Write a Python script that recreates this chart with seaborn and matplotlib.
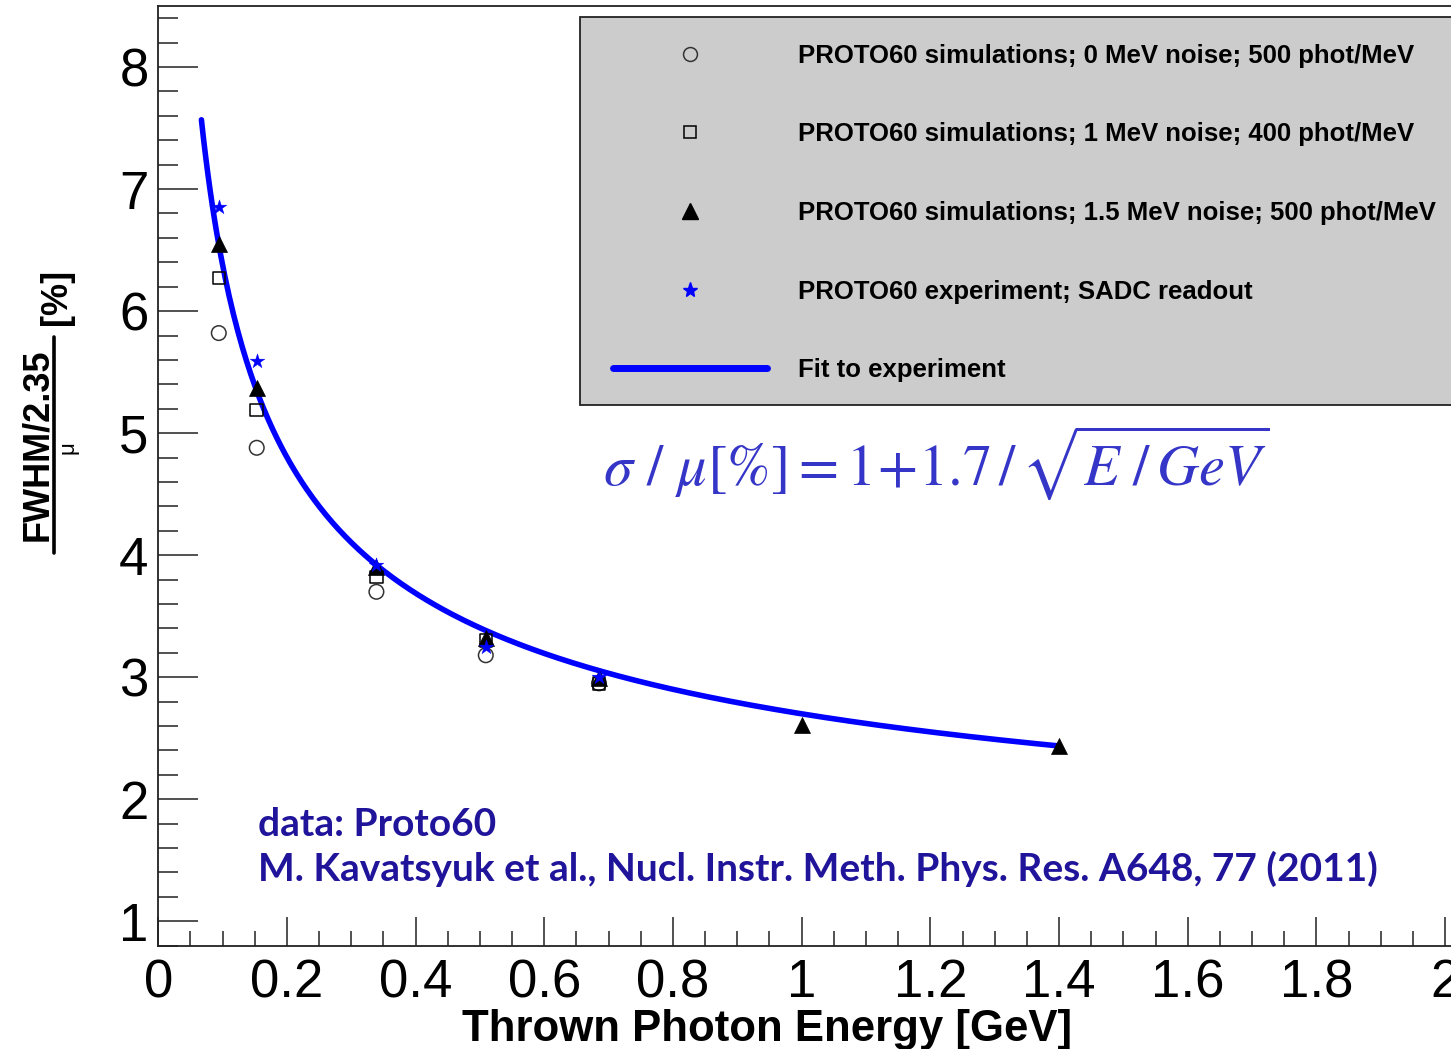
import numpy as np
import matplotlib
matplotlib.use("Agg")
import matplotlib.pyplot as plt
from matplotlib.lines import Line2D
from matplotlib.patches import Rectangle
from matplotlib.font_manager import FontProperties
import seaborn as sns

# ---------------- data ----------------
energy = [0.094, 0.153, 0.339, 0.509, 0.685]
energy_tri = [0.094, 0.153, 0.339, 0.509, 0.685, 1.0, 1.4]
sim_0mev = [5.82, 4.88, 3.70, 3.18, 2.95]          # open circles
sim_1mev = [6.27, 5.19, 3.82, 3.30, 2.95]          # open squares
sim_15mev = [6.55, 5.37, 3.90, 3.32, 2.99, 2.61, 2.44]  # filled triangles
experiment = [6.85, 5.59, 3.92, 3.25, 3.00]        # blue stars
fit_const, fit_slope = 1.0, 1.7                    # sigma/mu = a + b/sqrt(E)
fit_range = [0.067, 1.4]

legend_labels = [
    "PROTO60 simulations; 0 MeV noise; 500 phot/MeV",
    "PROTO60 simulations; 1 MeV noise; 400 phot/MeV",
    "PROTO60 simulations; 1.5 MeV noise; 500 phot/MeV",
    "PROTO60 experiment; SADC readout",
    "Fit to experiment",
]
xtick_vals = [0, 0.2, 0.4, 0.6, 0.8, 1.0, 1.2, 1.4, 1.6, 1.8, 2.0]
xtick_labels = ["0", "0.2", "0.4", "0.6", "0.8", "1", "1.2", "1.4", "1.6", "1.8", "2"]
ytick_vals = [1, 2, 3, 4, 5, 6, 7, 8]
ytick_labels = ["1", "2", "3", "4", "5", "6", "7", "8"]

# ---------------- figure ----------------
sns.set_style("ticks")
plt.rcParams["font.family"] = ["Liberation Sans", "DejaVu Sans"]
plt.rcParams["text.color"] = "black"
plt.rcParams["axes.labelcolor"] = "black"

W, H = 1451, 1049
fig = plt.figure(figsize=(W / 100, H / 100), dpi=100)
ax_l, ax_r, ax_t, ax_b = 158.3, 1457.9, 6.0, 945.7
ax = fig.add_axes([ax_l / W, 1 - ax_b / H, (ax_r - ax_l) / W, (ax_b - ax_t) / H])
ax.set_xlim(0, 2.02)
ax.set_ylim(0.8, 8.5)

fit_x = np.linspace(fit_range[0], fit_range[1], 400)
fit_y = fit_const + fit_slope / np.sqrt(fit_x)
sns.lineplot(x=fit_x, y=fit_y, ax=ax, color="#0000ff", lw=4.0, zorder=2)

sns.scatterplot(x=energy, y=sim_0mev, ax=ax, marker="o", s=10.5 ** 2,
                facecolor="none", edgecolor="#333333", linewidth=1.1, zorder=3)
sns.scatterplot(x=energy, y=sim_1mev, ax=ax, marker="s", s=9.0 ** 2,
                facecolor="none", edgecolor="black", linewidth=1.1, zorder=3)
sns.scatterplot(x=energy_tri, y=sim_15mev, ax=ax, marker="^", s=11.5 ** 2,
                color="black", edgecolor="black", linewidth=0.5, zorder=4)
sns.scatterplot(x=energy, y=experiment, ax=ax, marker="*", s=11 ** 2,
                color="#0000ff", edgecolor="#0000ff", linewidth=0.3, zorder=5)

# ticks
ax.set_xticks(xtick_vals)
ax.set_xticklabels(xtick_labels)
ax.set_yticks(ytick_vals)
ax.set_yticklabels(ytick_labels)
ax.set_xticks(np.arange(0, 2.02, 0.05), minor=True)
ax.set_yticks(np.arange(0.8, 8.51, 0.2), minor=True)
ax.tick_params(axis="both", which="both", direction="in", top=False, right=False,
               color="#222222", width=1.1, labelsize=38, labelcolor="black")
ax.tick_params(axis="x", which="major", length=21, pad=9)
ax.tick_params(axis="x", which="minor", length=11)
ax.tick_params(axis="y", which="major", length=29, pad=7)
ax.tick_params(axis="y", which="minor", length=14.5)
for sp in ax.spines.values():
    sp.set_linewidth(1.3)
    sp.set_color("#222222")

ax.set_xlabel("Thrown Photon Energy [GeV]", fontsize=31.5, fontweight="bold")
ax.xaxis.set_label_coords((767 - ax_l) / (ax_r - ax_l), -(1029 - ax_b) / (ax_b - ax_t))
ax.xaxis.label.set_va("center")

# y label built from pieces: fraction FWHM/2.35 over mu, then [%]
fig.text(38 / W, 1 - 445 / H, "FWHM/2.35", rotation=90, fontsize=26, fontweight="bold",
         ha="center", va="center")
fig.add_artist(Line2D([54 / W, 54 / W], [1 - 337 / H, 1 - 553 / H], color="black",
                      lw=2.6, transform=fig.transFigure))
fig.text(68 / W, 1 - 448 / H, "\u03bc", rotation=90, fontsize=16, ha="center", va="center")
fig.text(57 / W, 1 - 297 / H, "[%]", rotation=90, fontsize=26, fontweight="bold",
         ha="center", va="center")

# legend box
def px2ax(px, py):
    return (px - ax_l) / (ax_r - ax_l), (ax_b - py) / (ax_b - ax_t)

x0, y0 = px2ax(580, 405)
x1, y1 = px2ax(1470, 17)
ax.add_patch(Rectangle((x0, y0), x1 - x0, y1 - y0, transform=ax.transAxes,
                       facecolor="#cccccc", edgecolor="#222222", lw=1.3, zorder=6,
                       clip_on=False))
handles = [
    Line2D([], [], ls="none", marker="o", ms=10, mfc="none", mec="#333333", mew=1.1),
    Line2D([], [], ls="none", marker="s", ms=8.5, mfc="none", mec="black", mew=1.1),
    Line2D([], [], ls="none", marker="^", ms=11, mfc="black", mec="black"),
    Line2D([], [], ls="none", marker="*", ms=11, mfc="#0000ff", mec="#0000ff"),
    Line2D([], [], color="#0000ff", lw=5),
]
legfont = FontProperties(family=["Liberation Sans"], weight="bold", size=18.5)
lx, ly = 613 / W, 1 - 43.5 / H
leg = ax.legend(handles, legend_labels, loc="upper left", bbox_to_anchor=(lx, ly),
                bbox_transform=fig.transFigure, frameon=False, prop=legfont,
                handlelength=6.0, handletextpad=1.2, labelspacing=2.13,
                borderpad=0, borderaxespad=0, numpoints=1, labelcolor="black")
leg.set_zorder(7)

# formula
fig.text(603 / W, 1 - 485 / H,
         r"$\sigma\ /\ \mu[\%] = 1\!+\!1.7\,/\,\sqrt{E\ /\,GeV}$",
         fontsize=42, color="#3535c8", math_fontfamily="stix", va="baseline")

# reference note
note_color = "#20149a"
fig.text(258 / W, 1 - 836 / H, "data: Proto60", fontsize=28, fontweight="bold",
         family=["Lato", "DejaVu Sans"], color=note_color, va="baseline")
fig.text(258 / W, 1 - 881 / H,
         "M. Kavatsyuk et al., Nucl. Instr. Meth. Phys. Res. A648, 77 (2011)",
         fontsize=28, fontweight="bold", family=["Lato", "DejaVu Sans"],
         color=note_color, va="baseline")

fig.savefig("out.png", dpi=100)
